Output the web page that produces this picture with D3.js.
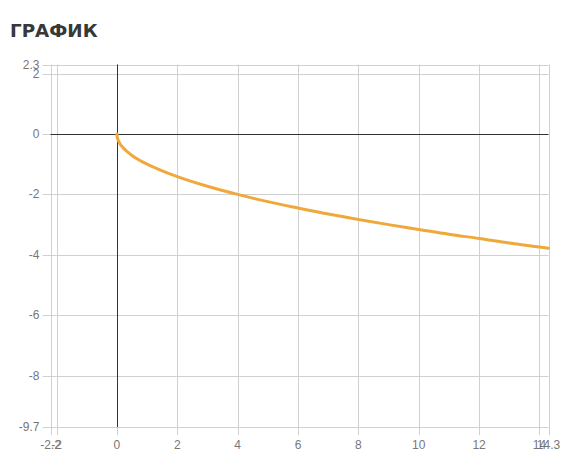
<!DOCTYPE html>
<html><head><meta charset="utf-8">
<script src="https://cdn.jsdelivr.net/npm/d3@7"></script>
<style>
body{margin:0;background:#fff;}
svg{display:block;}
</style></head>
<body><svg id="c" width="573" height="466"></svg>
<script>
const title = "ГРАФИК";
const xs = [0, 0.01, 0.03, 0.06, 0.1, 0.2, 0.35, 0.5, 0.75, 1, 1.5, 2, 3, 4, 5, 6, 7, 8, 9, 10, 11, 12, 13, 14, 14.3];
const ys = [0, -0.1, -0.17, -0.245, -0.32, -0.45, -0.59, -0.71, -0.87, -1, -1.22, -1.41, -1.73, -2, -2.24, -2.45, -2.65, -2.83, -3, -3.16, -3.32, -3.46, -3.61, -3.74, -3.78];
const xTicks = [-2.2, -2, 0, 2, 4, 6, 8, 10, 12, 14, 14.3];
const yTicks = [2.3, 2, 0, -2, -4, -6, -8, -9.7];
const xDomain = [-2.2, 14.3];
const yDomain = [-9.7, 2.3];

const svg = d3.select("#c");
const L = 50.5, R = 548.5, T = 64.5, B = 427;
const x = d3.scaleLinear().domain(xDomain).range([L, R]);
const y = d3.scaleLinear().domain(yDomain).range([B, T]);

svg.append("text").attr("x", 10).attr("y", 36.5).text(title)
  .attr("font-family", "'DejaVu Sans', sans-serif").attr("font-weight", 700)
  .attr("font-size", 18.3).attr("fill", "#383838");

const g = svg.append("g");
// grid
g.selectAll(".gx").data(xTicks).join("line")
  .attr("x1", d => Math.round(x(d)) + 0.5).attr("x2", d => Math.round(x(d)) + 0.5)
  .attr("y1", T).attr("y2", B + 8).attr("stroke", "#d0d0d0").attr("stroke-width", 1);
g.selectAll(".gy").data(yTicks).join("line")
  .attr("y1", d => Math.round(y(d)) + 0.5).attr("y2", d => Math.round(y(d)) + 0.5)
  .attr("x1", L - 8).attr("x2", R).attr("stroke", "#d0d0d0").attr("stroke-width", 1);
// zero axes
g.append("line").attr("x1", Math.round(x(0)) + 0.5).attr("x2", Math.round(x(0)) + 0.5)
  .attr("y1", T).attr("y2", B).attr("stroke", "#333").attr("stroke-width", 1);
g.append("line").attr("y1", Math.round(y(0)) + 0.5).attr("y2", Math.round(y(0)) + 0.5)
  .attr("x1", L).attr("x2", R).attr("stroke", "#333").attr("stroke-width", 1);

// tick labels
const font = "'Liberation Sans', Arial, sans-serif";
g.selectAll(".tx").data(xTicks).join("text")
  .attr("x", d => x(d)).attr("y", B + 22).attr("text-anchor", "middle")
  .attr("font-family", font).attr("font-size", 12).attr("fill", "#777").text(d => d);
g.selectAll(".ty").data(yTicks).join("text")
  .attr("x", L - 11).attr("y", d => y(d) + 4).attr("text-anchor", "end")
  .attr("font-family", font).attr("font-size", 12).attr("fill", "#777").text(d => d);

// curve
const pts = xs.map((v, i) => [v, ys[i]]);
g.append("path").datum(pts)
  .attr("d", d3.line().x(d => x(d[0])).y(d => y(d[1])).curve(d3.curveMonotoneX))
  .attr("fill", "none").attr("stroke", "#EFA93A").attr("stroke-width", 3)
  .attr("stroke-linecap", "round");
</script></body></html>
